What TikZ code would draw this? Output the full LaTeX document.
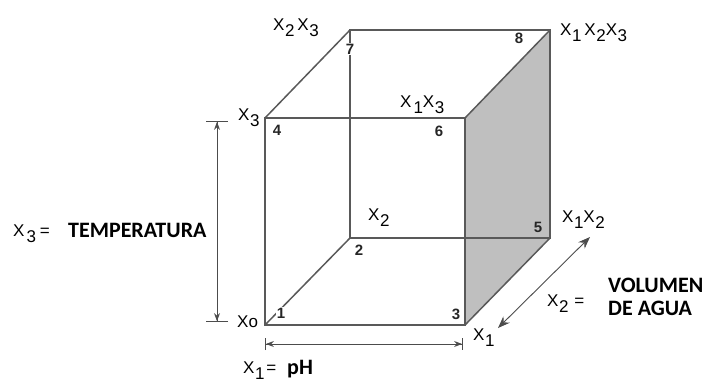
\documentclass[tikz,border=0pt]{standalone}
\usepackage{fontspec}
\setmainfont{Liberation Sans}
\newfontfamily\calibri{Carlito}
\usepackage{xcolor}
\usetikzlibrary{arrows.meta}

% X with a lowered index
\newcommand{\xs}[1]{X\kern0.5pt\raisebox{-6pt}{#1}}

\begin{document}
\begin{tikzpicture}[x=1pt, y=-1pt, >=Stealth,
  edge/.style={draw=black!65, line width=1.5pt},
  dim/.style={draw=black!70, line width=0.9pt},
  xlab/.style={font=\fontsize{17}{19}\selectfont, text=black, inner sep=0pt, anchor=base west},
  word/.style={font=\calibri\bfseries\fontsize{22}{24}\selectfont, inner sep=0pt, anchor=base west},
  corner/.style={font=\bfseries\fontsize{15}{17}\selectfont, text=black!85, fill=white, inner sep=1pt}]
  \useasboundingbox (0,0) rectangle (705,383);

  % cube corners (front face, then back face)
  \coordinate (c1) at (265,325);
  \coordinate (c3) at (465,325);
  \coordinate (c4) at (265,118);
  \coordinate (c6) at (465,118);
  \coordinate (c2) at (350,238);
  \coordinate (c5) at (550,238);
  \coordinate (c7) at (350,30);
  \coordinate (c8) at (550,30);

  % shaded side
  \fill[gray!50] (c6) -- (c8) -- (c5) -- (c3) -- cycle;

  % edges
  \draw[edge] (c1) rectangle (c6);
  \draw[edge] (c7) -- (c8) -- (c5) -- (c2) -- cycle;
  \draw[edge] (c1) -- (c2);
  \draw[edge] (c3) -- (c5);
  \draw[edge] (c4) -- (c7);
  \draw[edge] (c6) -- (c8);

  % corner numbers
  \foreach \n/\x/\y in {1/281/313, 2/359/250, 3/456/314, 4/277/130, 6/439/131, 7/350/49, 8/519/38} {
    \node[corner] (n\n) at (\x,\y) {\n};
  }
  \node[corner, fill=none] (n5) at (538,227) {5};

  % dimension arrows
  \coordinate (t3) at (217,121);
  \coordinate (t0) at (217,322);
  \draw[dim, {Bar[width=22pt]Stealth[length=8pt]}-{Stealth[length=8pt]Bar[width=22pt]}] (t3) -- (t0);
  \coordinate (p0) at (265,344);
  \coordinate (p1) at (463,344);
  \draw[dim, {Bar[width=12pt]Stealth[length=8pt]}-{Stealth[length=8pt]Bar[width=12pt]}] (p0) -- (p1);
  \coordinate (v0) at (498,328);
  \coordinate (v1) at (590,237);
  \draw[dim, {Stealth[length=12pt,width=9pt]}-{Stealth[length=12pt,width=9pt]}] (v0) -- (v1);

  % corner labels
  \node[xlab] (l23) at (273,30) {\xs{2}\kern3pt\xs{3}};
  \node[xlab] (l13) at (400,107) {X\kern2pt\raisebox{-6pt}{1}\xs{3}};
  \node[xlab] (l123) at (560,35) {\xs{1}\kern3pt\xs{2}\xs{3}};
  \node[xlab] (l3) at (238,120) {\xs{3}};
  \node[xlab] (l2) at (368,220) {\xs{2}};
  \node[xlab] (l12) at (562,222) {\xs{1}\xs{2}};
  \node[xlab] (l1) at (473,340) {\xs{1}};
  \node[xlab] (l0) at (237,327) {Xo};

  % factor names
  \node[xlab] (f3) at (13,236) {X\kern2pt\raisebox{-6pt}{3}\kern4pt=};
  \node[word] (temp) at (68,237) {TEMPERATURA};
  \node[xlab] (f2) at (547,306) {\xs{2}\kern6pt=};
  \node[word] (vol) at (608,292) {VOLUMEN};
  \node[word] (agua) at (608,315) {DE AGUA};
  \node[xlab] (f1) at (243,373) {\xs{1}\kern2pt=};
  \node[word] (ph) at (287,374) {pH};
\end{tikzpicture}
\end{document}
